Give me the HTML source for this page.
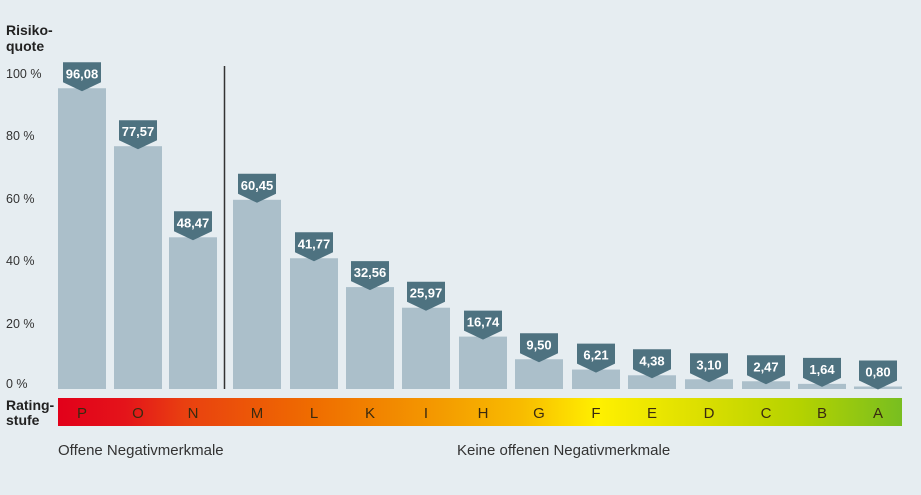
<!DOCTYPE html>
<html><head><meta charset="utf-8"><style>
body{margin:0;background:#e6edf1;}
svg{display:block;font-family:"Liberation Sans",sans-serif;}
</style></head><body>
<svg width="921" height="495" viewBox="0 0 921 495">
<defs>
<linearGradient id="g" x1="0" x2="1" y1="0" y2="0">
<stop offset="0" stop-color="#e2001a"/>
<stop offset="0.08" stop-color="#e4141a"/>
<stop offset="0.15" stop-color="#e94010"/>
<stop offset="0.3" stop-color="#ef6c00"/>
<stop offset="0.45" stop-color="#f49a00"/>
<stop offset="0.55" stop-color="#f8bc00"/>
<stop offset="0.64" stop-color="#fff000"/>
<stop offset="0.76" stop-color="#dcdf00"/>
<stop offset="0.88" stop-color="#b4d200"/>
<stop offset="1" stop-color="#78be20"/>
</linearGradient>
</defs>
<rect width="921" height="495" fill="#e6edf1"/>
<text x="6" y="35" font-size="14" font-weight="bold" fill="#222">Risiko-</text>
<text x="6" y="51" font-size="14" font-weight="bold" fill="#222">quote</text>
<g font-size="12.5" fill="#333">
<text x="6" y="78">100 %</text>
<text x="6" y="140">80 %</text>
<text x="6" y="203">60 %</text>
<text x="6" y="265">40 %</text>
<text x="6" y="328">20 %</text>
<text x="6" y="388">0 %</text>
</g>
<line x1="224.5" y1="66" x2="224.5" y2="389" stroke="#333" stroke-width="1.5"/>
<g id="bars"></g>
<rect x="58" y="398" width="844" height="28" fill="url(#g)"/>
<text x="6" y="410" font-size="14" font-weight="bold" fill="#222">Rating-</text>
<text x="6" y="425" font-size="14" font-weight="bold" fill="#222">stufe</text>
<g id="letters" font-size="15" fill="#3a2a10" text-anchor="middle"></g>
<text x="58" y="455" font-size="15" fill="#333">Offene Negativmerkmale</text>
<text x="457" y="455" font-size="15" fill="#333">Keine offenen Negativmerkmale</text>
</svg>
<script>
var d=[[82,96.08,"P"],[138,77.57,"O"],[193,48.47,"N"],[257,60.45,"M"],[314,41.77,"L"],[370,32.56,"K"],[426,25.97,"I"],[483,16.74,"H"],[539,9.50,"G"],[596,6.21,"F"],[652,4.38,"E"],[709,3.10,"D"],[766,2.47,"C"],[822,1.64,"B"],[878,0.80,"A"]];
var ns="http://www.w3.org/2000/svg",b=document.getElementById("bars"),l=document.getElementById("letters");
function el(t,a,p,txt){var e=document.createElementNS(ns,t);for(var k in a)e.setAttribute(k,a[k]);if(txt)e.textContent=txt;p.appendChild(e);return e;}
d.forEach(function(r){var c=r[0],v=r[1],top=389-v*3.13;
el("rect",{x:c-24,y:top,width:48,height:389-top,fill:"#abbfca"},b);
var tip=top+3,bb=tip-9,bt=bb-20;
el("path",{d:"M"+(c-19)+" "+bt+"H"+(c+19)+"V"+bb+"L"+c+" "+tip+"L"+(c-19)+" "+bb+"Z",fill:"#4e7280"},b);
el("text",{x:c,y:bb-4,"font-size":"13","font-weight":"bold",fill:"#fff","text-anchor":"middle"},b,v.toFixed(2).replace(".",","));
el("text",{x:c,y:418},l,r[2]);
});
</script>
</body></html>
